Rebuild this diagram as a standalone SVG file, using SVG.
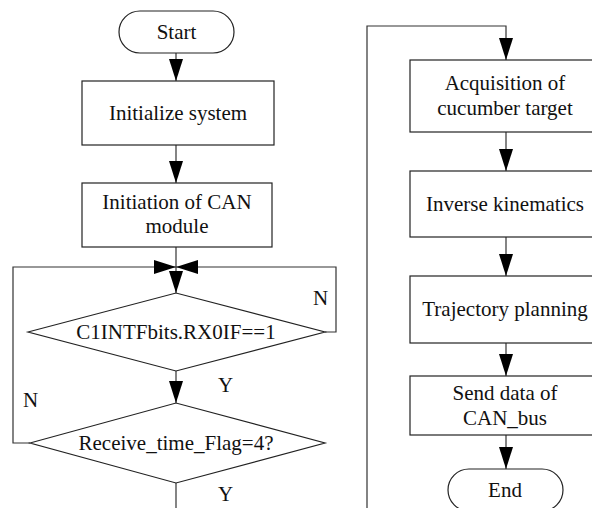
<svg xmlns="http://www.w3.org/2000/svg" width="592" height="508" viewBox="0 0 592 508">
<style>
.shape{fill:#fff;stroke:#222;stroke-width:1.2}
.line{fill:none;stroke:#333;stroke-width:1.2}
text{font-family:"Liberation Serif","Times New Roman",serif;font-size:21px;fill:#111;text-anchor:middle}
.lbl{text-anchor:start}
</style>
<defs>
<marker id="ah" markerUnits="userSpaceOnUse" markerWidth="22" markerHeight="14" refX="22" refY="7" orient="auto">
<path d="M0,0 L22,7 L0,14 z" fill="#000"/>
</marker>
</defs>
<rect width="592" height="508" fill="#fff"/>
<g id="connectors">
<line class="line" x1="176" y1="53" x2="176" y2="81" marker-end="url(#ah)"/>
<line class="line" x1="176" y1="145" x2="176" y2="183" marker-end="url(#ah)"/>
<line class="line" x1="176" y1="247" x2="176" y2="267"/>
<line class="line" x1="176" y1="267" x2="176" y2="293" marker-end="url(#ah)"/>
<polyline class="line" points="325,332 336,332 336,267 176,267" marker-end="url(#ah)"/>
<polyline class="line" points="30,443 13,443 13,267 176,267" marker-end="url(#ah)"/>
<line class="line" x1="176" y1="371" x2="176" y2="403" marker-end="url(#ah)"/>
<line class="line" x1="176" y1="483" x2="176" y2="510"/>
<polyline class="line" points="367,510 367,26 506,26 506,60" marker-end="url(#ah)"/>
<line class="line" x1="506" y1="132" x2="506" y2="171" marker-end="url(#ah)"/>
<line class="line" x1="506" y1="237" x2="506" y2="276" marker-end="url(#ah)"/>
<line class="line" x1="506" y1="343" x2="506" y2="376" marker-end="url(#ah)"/>
<line class="line" x1="506" y1="435" x2="506" y2="469" marker-end="url(#ah)"/>
<text class="lbl" x="313" y="305">N</text>
<text class="lbl" x="218" y="392">Y</text>
<text class="lbl" x="23" y="407">N</text>
<text class="lbl" x="218" y="501">Y</text>
</g>
<g id="start">
<rect class="shape" x="119" y="11" width="115" height="42" rx="21" ry="21"/>
<text x="176.5" y="39">Start</text>
</g>
<g id="init-system">
<rect class="shape" x="82" y="81" width="192" height="64"/>
<text x="178" y="120">Initialize system</text>
</g>
<g id="init-can">
<rect class="shape" x="82" y="183" width="190" height="64"/>
<text x="177" y="209">Initiation of CAN</text>
<text x="177" y="233">module</text>
</g>
<g id="decision-rx">
<polygon class="shape" points="28,332 176,293 325,332 176,371"/>
<text x="176" y="339">C1INTFbits.RX0IF==1</text>
</g>
<g id="decision-flag">
<polygon class="shape" points="30,443 176,403 325,443 176,483"/>
<text x="176" y="450">Receive_time_Flag=4?</text>
</g>
<g id="acquisition">
<rect class="shape" x="410" y="60" width="200" height="72"/>
<text x="505" y="90">Acquisition of</text>
<text x="505" y="115">cucumber target</text>
</g>
<g id="inverse">
<rect class="shape" x="410" y="171" width="200" height="66"/>
<text x="505" y="211">Inverse kinematics</text>
</g>
<g id="trajectory">
<rect class="shape" x="410" y="276" width="200" height="67"/>
<text x="505" y="316">Trajectory planning</text>
</g>
<g id="send">
<rect class="shape" x="410" y="376" width="200" height="59"/>
<text x="505" y="400">Send data of</text>
<text x="505" y="425">CAN_bus</text>
</g>
<g id="end">
<rect class="shape" x="448" y="469" width="115" height="42" rx="21" ry="21"/>
<text x="505" y="497">End</text>
</g>
</svg>
